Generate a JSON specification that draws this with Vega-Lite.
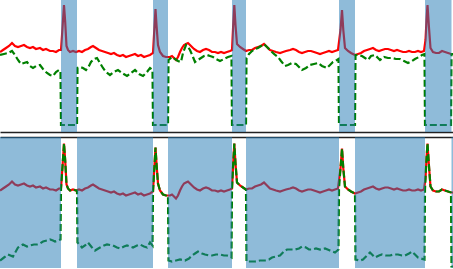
{
"$schema": "https://vega.github.io/schema/vega-lite/v6.json",
"padding": 0,
"spacing": 5,
"config": {"view": {"stroke": null}},
"datasets": {
"red": [
{"x":0,"v":79},{"x":3,"v":81},{"x":6,"v":83},{"x":9,"v":85},{"x":12,"v":88},{"x":15,"v":85},{"x":18,"v":84},{"x":21,"v":85},{"x":24,"v":86},{"x":27,"v":84},{"x":30,"v":83},{"x":33,"v":84},{"x":36,"v":82},{"x":40,"v":83},{"x":43,"v":81},{"x":46,"v":82},{"x":50,"v":80},{"x":53,"v":80},{"x":56,"v":79},{"x":59,"v":81},{"x":61,"v":81},{"x":62.5,"v":103},{"x":64,"v":126},{"x":65.2,"v":109},{"x":66.5,"v":85},{"x":68,"v":81},{"x":70,"v":79},{"x":73,"v":80},{"x":76,"v":79},{"x":79,"v":80},{"x":82,"v":79},{"x":85,"v":81},{"x":88,"v":82},{"x":91,"v":84},{"x":93,"v":85},{"x":96,"v":83},{"x":99,"v":81},{"x":102,"v":80},{"x":105,"v":79},{"x":108,"v":78},{"x":111,"v":77},{"x":114,"v":78},{"x":117,"v":76},{"x":120,"v":75},{"x":123,"v":76},{"x":126,"v":74},{"x":129,"v":75},{"x":132,"v":76},{"x":135,"v":77},{"x":138,"v":75},{"x":141,"v":76},{"x":144,"v":74},{"x":147,"v":75},{"x":150,"v":76},{"x":153,"v":78},{"x":154.3,"v":101},{"x":155.5,"v":122},{"x":156.5,"v":106},{"x":158,"v":86},{"x":160,"v":79},{"x":163,"v":75},{"x":166,"v":74},{"x":168,"v":74},{"x":170,"v":74},{"x":172,"v":75},{"x":174,"v":73},{"x":176,"v":71},{"x":178,"v":74},{"x":180,"v":79},{"x":182,"v":83},{"x":184,"v":86},{"x":186,"v":87},{"x":188,"v":88},{"x":191,"v":85},{"x":194,"v":82},{"x":197,"v":80},{"x":200,"v":79},{"x":203,"v":81},{"x":206,"v":82},{"x":209,"v":81},{"x":212,"v":79},{"x":215,"v":79},{"x":218,"v":78},{"x":221,"v":79},{"x":224,"v":78},{"x":227,"v":79},{"x":230,"v":80},{"x":232,"v":81},{"x":233.2,"v":106},{"x":234.3,"v":126},{"x":235.5,"v":106},{"x":237,"v":87},{"x":240,"v":84},{"x":243,"v":82},{"x":246,"v":80},{"x":249,"v":81},{"x":252,"v":81},{"x":255,"v":83},{"x":258,"v":84},{"x":261,"v":85},{"x":264,"v":87},{"x":267,"v":84},{"x":270,"v":81},{"x":273,"v":80},{"x":276,"v":79},{"x":280,"v":78},{"x":283,"v":79},{"x":286,"v":80},{"x":290,"v":81},{"x":293,"v":82},{"x":296,"v":81},{"x":299,"v":79},{"x":302,"v":78},{"x":305,"v":79},{"x":308,"v":80},{"x":311,"v":80},{"x":314,"v":79},{"x":317,"v":78},{"x":320,"v":77},{"x":323,"v":78},{"x":326,"v":79},{"x":329,"v":80},{"x":332,"v":79},{"x":335,"v":80},{"x":338,"v":81},{"x":340.5,"v":101},{"x":342,"v":121},{"x":343.3,"v":101},{"x":345,"v":83},{"x":348,"v":80},{"x":351,"v":78},{"x":355,"v":76},{"x":358,"v":77},{"x":361,"v":78},{"x":364,"v":80},{"x":367,"v":81},{"x":370,"v":82},{"x":373,"v":83},{"x":376,"v":81},{"x":379,"v":80},{"x":382,"v":81},{"x":385,"v":82},{"x":388,"v":82},{"x":391,"v":81},{"x":394,"v":80},{"x":397,"v":81},{"x":400,"v":80},{"x":403,"v":79},{"x":406,"v":79},{"x":409,"v":80},{"x":412,"v":79},{"x":415,"v":79},{"x":418,"v":80},{"x":421,"v":79},{"x":424,"v":80},{"x":425.5,"v":91},{"x":426.5,"v":111},{"x":427.5,"v":126},{"x":428.8,"v":106},{"x":430.5,"v":83},{"x":433,"v":79},{"x":436,"v":78},{"x":439,"v":78},{"x":442,"v":80},{"x":445,"v":79},{"x":448,"v":78},{"x":451,"v":77},{"x":453,"v":77}
],
"g1": [
{"x":0,"v":76},{"x":4,"v":77},{"x":8,"v":78},{"x":12,"v":80},{"x":15,"v":76},{"x":18,"v":71},{"x":21,"v":67},{"x":24,"v":68},{"x":27,"v":69},{"x":30,"v":65},{"x":33,"v":63},{"x":36,"v":65},{"x":40,"v":66},{"x":43,"v":62},{"x":47,"v":58},{"x":50,"v":56},{"x":53,"v":55},{"x":56,"v":59},{"x":59,"v":61},{"x":60.5,"v":60},{"x":61,"v":6},{"x":77,"v":6},{"x":77.5,"v":63},{"x":80,"v":64},{"x":83,"v":63},{"x":86,"v":61},{"x":89,"v":65},{"x":91,"v":69},{"x":94,"v":72},{"x":97,"v":73},{"x":100,"v":68},{"x":103,"v":63},{"x":106,"v":59},{"x":110,"v":56},{"x":114,"v":59},{"x":118,"v":61},{"x":122,"v":58},{"x":127,"v":55},{"x":131,"v":58},{"x":135,"v":61},{"x":139,"v":57},{"x":143,"v":55},{"x":147,"v":59},{"x":150,"v":63},{"x":152.5,"v":61},{"x":153,"v":6},{"x":168,"v":6},{"x":168.5,"v":71},{"x":172,"v":74},{"x":175,"v":72},{"x":178,"v":70},{"x":181,"v":69},{"x":183,"v":78},{"x":186,"v":86},{"x":188,"v":84},{"x":190,"v":81},{"x":193,"v":74},{"x":195,"v":69},{"x":198,"v":71},{"x":201,"v":73},{"x":204,"v":75},{"x":207,"v":76},{"x":210,"v":75},{"x":213,"v":74},{"x":216,"v":72},{"x":220,"v":70},{"x":224,"v":72},{"x":228,"v":74},{"x":231.5,"v":75},{"x":232,"v":6},{"x":246,"v":6},{"x":246.5,"v":73},{"x":249,"v":77},{"x":252,"v":80},{"x":255,"v":82},{"x":258,"v":83},{"x":261,"v":85},{"x":264,"v":87},{"x":267,"v":84},{"x":270,"v":81},{"x":274,"v":77},{"x":278,"v":74},{"x":281,"v":70},{"x":285,"v":65},{"x":288,"v":66},{"x":292,"v":68},{"x":296,"v":67},{"x":299,"v":64},{"x":302,"v":61},{"x":306,"v":63},{"x":310,"v":66},{"x":314,"v":67},{"x":318,"v":68},{"x":322,"v":65},{"x":327,"v":63},{"x":330,"v":66},{"x":333,"v":69},{"x":337,"v":71},{"x":338.5,"v":72},{"x":339,"v":6},{"x":355,"v":6},{"x":355.5,"v":76},{"x":358,"v":76},{"x":362,"v":75},{"x":365,"v":73},{"x":368,"v":71},{"x":371,"v":75},{"x":375,"v":76},{"x":378,"v":73},{"x":380,"v":71},{"x":384,"v":74},{"x":388,"v":73},{"x":392,"v":73},{"x":396,"v":72},{"x":400,"v":72},{"x":404,"v":70},{"x":408,"v":68},{"x":412,"v":70},{"x":415,"v":72},{"x":419,"v":74},{"x":422,"v":76},{"x":424.5,"v":77},{"x":425,"v":6},{"x":451,"v":6},{"x":451.5,"v":77},{"x":453,"v":77}
],
"g2": [
{"x":0,"v":9},{"x":4,"v":12},{"x":8,"v":15},{"x":13,"v":13},{"x":18,"v":22},{"x":23,"v":25},{"x":27,"v":23},{"x":30,"v":24},{"x":34,"v":25},{"x":37,"v":25},{"x":40,"v":26},{"x":43,"v":28},{"x":47,"v":29},{"x":50,"v":30},{"x":53,"v":29},{"x":55,"v":28},{"x":58,"v":29},{"x":60.5,"v":30},{"x":61,"v":81},{"x":62.5,"v":103},{"x":64,"v":126},{"x":65.2,"v":109},{"x":66.5,"v":85},{"x":68,"v":81},{"x":70,"v":79},{"x":73,"v":80},{"x":76,"v":79},{"x":77,"v":79},{"x":77.5,"v":27},{"x":82,"v":22},{"x":85,"v":24},{"x":88,"v":27},{"x":92,"v":22},{"x":95,"v":19},{"x":100,"v":22},{"x":104,"v":24},{"x":107,"v":25},{"x":113,"v":24},{"x":117,"v":22},{"x":120,"v":21},{"x":124,"v":23},{"x":127,"v":24},{"x":133,"v":22},{"x":137,"v":24},{"x":140,"v":25},{"x":144,"v":23},{"x":147,"v":22},{"x":150,"v":27},{"x":152.5,"v":24},{"x":153,"v":78},{"x":154.3,"v":101},{"x":155.5,"v":122},{"x":156.5,"v":106},{"x":158,"v":86},{"x":160,"v":79},{"x":163,"v":75},{"x":166,"v":74},{"x":168,"v":74},{"x":168.5,"v":9},{"x":172,"v":8},{"x":176,"v":9},{"x":180,"v":10},{"x":185,"v":9},{"x":189,"v":11},{"x":192,"v":14},{"x":195,"v":16},{"x":198,"v":18},{"x":202,"v":16},{"x":205,"v":15},{"x":209,"v":14},{"x":212,"v":14},{"x":216,"v":15},{"x":220,"v":15},{"x":224,"v":14},{"x":227,"v":14},{"x":231.5,"v":12},{"x":232,"v":81},{"x":233.2,"v":106},{"x":234.3,"v":126},{"x":235.5,"v":106},{"x":237,"v":87},{"x":240,"v":84},{"x":243,"v":82},{"x":246,"v":80},{"x":246.5,"v":8},{"x":250,"v":8},{"x":255,"v":8},{"x":260,"v":9},{"x":265,"v":9},{"x":269,"v":10},{"x":272,"v":12},{"x":276,"v":13},{"x":280,"v":14},{"x":284,"v":18},{"x":287,"v":20},{"x":291,"v":20},{"x":295,"v":20},{"x":299,"v":21},{"x":302,"v":23},{"x":306,"v":22},{"x":309,"v":20},{"x":312,"v":20},{"x":316,"v":21},{"x":320,"v":20},{"x":325,"v":21},{"x":330,"v":19},{"x":335,"v":17},{"x":338.5,"v":20},{"x":339,"v":81},{"x":340.5,"v":101},{"x":342,"v":121},{"x":343.3,"v":101},{"x":345,"v":83},{"x":348,"v":80},{"x":351,"v":78},{"x":355,"v":76},{"x":355.5,"v":10},{"x":360,"v":9},{"x":363,"v":10},{"x":365,"v":12},{"x":368,"v":15},{"x":370,"v":17},{"x":373,"v":14},{"x":375,"v":12},{"x":379,"v":14},{"x":382,"v":15},{"x":386,"v":14},{"x":390,"v":14},{"x":394,"v":15},{"x":398,"v":15},{"x":402,"v":14},{"x":405,"v":14},{"x":409,"v":16},{"x":412,"v":18},{"x":415,"v":15},{"x":418,"v":12},{"x":421,"v":11},{"x":424.5,"v":10},{"x":425,"v":80},{"x":425.5,"v":91},{"x":426.5,"v":111},{"x":427.5,"v":126},{"x":428.8,"v":106},{"x":430.5,"v":83},{"x":433,"v":79},{"x":436,"v":78},{"x":439,"v":78},{"x":442,"v":80},{"x":445,"v":79},{"x":448,"v":78},{"x":451,"v":77},{"x":451.5,"v":3},{"x":453,"v":3}
],
"topR": [{"x":61,"xe":77},{"x":153,"xe":168},{"x":232,"xe":246},{"x":339,"xe":355},{"x":425,"xe":451.5}],
"botR": [{"x":0,"xe":61},{"x":77,"xe":153},{"x":168,"xe":232},{"x":246,"xe":339},{"x":355,"xe":425},{"x":451.5,"xe":453}]
},
"vconcat": [
{
"width": 453, "height": 132,
"encoding": {"x": {"field": "x", "type": "quantitative", "scale": {"domain": [0, 453], "nice": false, "zero": false}, "axis": {"orient": "bottom", "domain": true, "ticks": false, "labels": false, "grid": false, "title": null, "domainColor": "#222222", "domainWidth": 1.3}}},
"layer": [
{"data": {"name": "red"}, "mark": {"type": "line", "color": "#ff0000", "strokeWidth": 2.2, "clip": true}, "encoding": {"y": {"field": "v", "type": "quantitative", "scale": {"domain": [-1, 131], "nice": false, "zero": false}, "axis": null}}},
{"data": {"name": "g1"}, "mark": {"type": "line", "color": "#008000", "strokeWidth": 2.2, "strokeDash": [7, 3], "clip": true}, "encoding": {"y": {"field": "v", "type": "quantitative", "scale": {"domain": [-1, 131], "nice": false, "zero": false}, "axis": null}}},
{"data": {"name": "topR"}, "mark": {"type": "rect", "color": "#1f77b4", "opacity": 0.5, "clip": true}, "encoding": {"x2": {"field": "xe"}}}
]
},
{
"width": 453, "height": 131,
"encoding": {"x": {"field": "x", "type": "quantitative", "scale": {"domain": [0, 453], "nice": false, "zero": false}, "axis": {"orient": "top", "domain": true, "ticks": false, "labels": false, "grid": false, "title": null, "domainColor": "#222222", "domainWidth": 1.3}}},
"layer": [
{"data": {"name": "red"}, "mark": {"type": "line", "color": "#ff0000", "strokeWidth": 2.2, "clip": true}, "encoding": {"y": {"field": "v", "type": "quantitative", "scale": {"domain": [1.5, 132.5], "nice": false, "zero": false}, "axis": null}}},
{"data": {"name": "g2"}, "mark": {"type": "line", "color": "#008000", "strokeWidth": 2.2, "strokeDash": [7, 3], "clip": true}, "encoding": {"y": {"field": "v", "type": "quantitative", "scale": {"domain": [1.5, 132.5], "nice": false, "zero": false}, "axis": null}}},
{"data": {"name": "botR"}, "mark": {"type": "rect", "color": "#1f77b4", "opacity": 0.5, "clip": true}, "encoding": {"x2": {"field": "xe"}}}
]
}
]
}
